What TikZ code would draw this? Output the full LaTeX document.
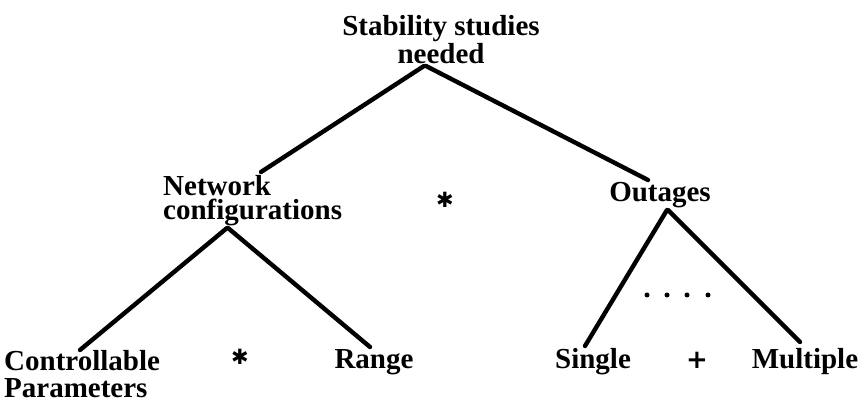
\documentclass[tikz,border=0pt]{standalone}
\usepackage{fontspec}
\setmainfont{Liberation Serif}
\newfontfamily\symfont{DejaVu Sans}
\begin{document}
\begin{tikzpicture}[x=1pt,y=-1pt,
  lbl/.style={inner sep=0pt,font=\fontsize{29}{28}\selectfont\bfseries},
  sym/.style={inner sep=0pt,font=\symfont\bfseries\fontsize{21}{21}\selectfont},
  conn/.style={line width=4.4pt,line cap=round},
  dotmark/.style={circle,fill=black,inner sep=0pt,minimum size=5pt}]
\useasboundingbox (0,0) rectangle (865,403);
\node[lbl,align=center,anchor=base] (root) at (441,64) {Stability studies\\needed};
\node[lbl,align=left,anchor=base west] (net) at (163,220) {Network\\[-4pt]configurations};
\node[lbl,anchor=base] (out) at (660,202) {Outages};
\node[lbl,align=left,anchor=base west] (ctrl) at (4,397) {Controllable\\[-1pt]Parameters};
\node[lbl,anchor=base] (range) at (374,369) {Range};
\node[lbl,anchor=base] (single) at (593,369) {Single};
\node[lbl,anchor=base] (mult) at (805,369) {Multiple};
\node[sym] (star1) at (445,200) {✱};
\node[sym] (star2) at (240,357) {✱};
\node[sym,font=\symfont\bfseries\fontsize{26}{26}\selectfont] (plus) at (697,360) {+};
\node[dotmark] (d1) at (647,295) {};
\node[dotmark] (d2) at (667,295) {};
\node[dotmark] (d3) at (687,295) {};
\node[dotmark] (d4) at (708,295) {};
\draw[conn] ([shift={(-17,2)}]root.base) -- ([shift={(98,-48)}]net.base west);
\draw[conn] ([shift={(-15,2)}]root.base) -- ([shift={(-12,-22)}]out.base);
\draw[conn] ([shift={(64,8)}]net.base west) -- ([shift={(76,-47)}]ctrl.base west);
\draw[conn] ([shift={(65,8)}]net.base west) -- ([shift={(-4,-22)}]range.base);
\draw[conn] ([shift={(7,8)}]out.base) -- ([shift={(-8,-23)}]single.base);
\draw[conn] ([shift={(8,8)}]out.base) -- ([shift={(-5,-27)}]mult.base);
\end{tikzpicture}
\end{document}
